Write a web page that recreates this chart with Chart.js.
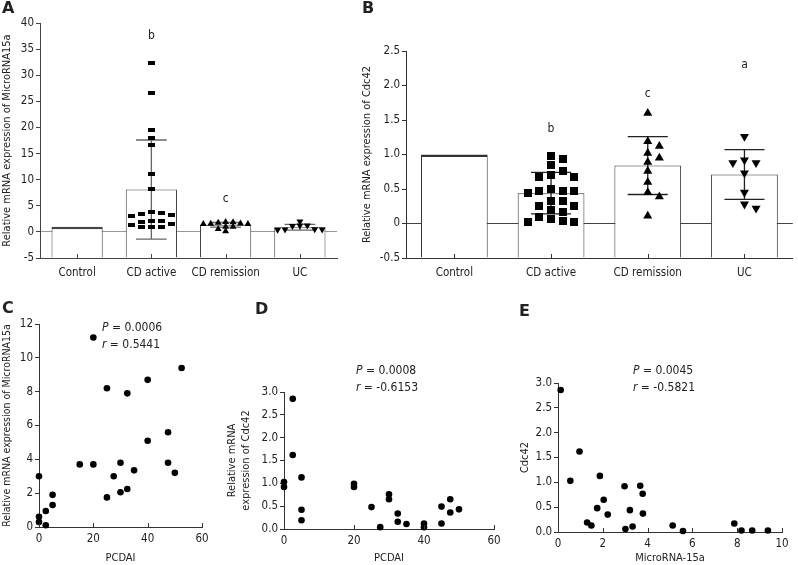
<!DOCTYPE html>
<html>
<head>
<meta charset="utf-8">
<script src="https://cdn.jsdelivr.net/npm/chart.js@4.4.1/dist/chart.umd.min.js"></script>
<style>
body { margin: 0; background: #fff; }
#fig { position: relative; width: 798px; height: 565px; overflow: hidden;
  font-family: 'DejaVu Sans Condensed', 'DejaVu Sans', sans-serif; color: #222; }
#fig canvas { position: absolute; }
.lab { position: absolute; font: bold 16px 'DejaVu Sans', sans-serif; line-height: 17px; }
.stat { position: absolute; font-size: 12px; line-height: 17px; white-space: nowrap; }
</style>
</head>
<body>
<div id="fig">
  <canvas id="cA"></canvas>
  <canvas id="cB"></canvas>
  <canvas id="cC"></canvas>
  <canvas id="cD"></canvas>
  <canvas id="cE"></canvas>
</div>
<script>
// ---- data ----
const groups = ['Control', 'CD active', 'CD remission', 'UC'];

// A: MicroRNA15a by group
const mirMean = [1, 8.1, 1.35, 0.9];
const mirSD = [0, 9.5, 0.45, 0.55];
const mirActive = [32.4, 26.6, 19.6, 17.9, 16.6, 11.1, 8.2, 3.8, 3.7, 3.4, 3.3, 3.1, 2.1, 2.0, 1.9, 1.6, 1.4, 1.0, 0.95, 0.9];
const mirRemission = [1.9, 1.85, 1.75, 1.6, 1.55, 1.5, 1.5, 1.0, 1.0, 0.55, 0.1];
const mirUC = [2.0, 1.2, 1.2, 1.15, 0.5, 0.45, 0.45, 0.4];
const mirLetters = ['', 'b', 'c', ''];
const mirLetterAt = [null, 37.5, 6.3, null];

// B: Cdc42 by group
const cdcMean = [1.0, 0.44, 0.84, 0.71];
const cdcSD = [0, 0.30, 0.42, 0.36];
const cdcActive = [0.98, 0.93, 0.85, 0.76, 0.71, 0.67, 0.67, 0.50, 0.47, 0.47, 0.47, 0.44, 0.33, 0.33, 0.25, 0.25, 0.20, 0.16, 0.10, 0.06, 0.03, 0.02, 0.02];
const cdcRemission = [1.60, 1.19, 1.12, 1.02, 0.95, 0.89, 0.76, 0.60, 0.45, 0.39, 0.11];
const cdcUC = [1.26, 0.92, 0.88, 0.88, 0.73, 0.45, 0.28, 0.22];
const cdcLetters = ['', 'b', 'c', 'a'];
const cdcLetterAt = [null, 1.37, 1.88, 2.3];

// C: PCDAI vs MicroRNA15a
const pcdaiC = [0, 0, 0, 2.5, 2.5, 5, 5, 15, 20, 20, 25, 25, 27.5, 30, 30, 32.5, 32.5, 35, 40, 40, 47.5, 47.5, 50, 52.5];
const mirC = [3.0, 0.6, 0.3, 0.1, 0.95, 1.3, 1.9, 3.7, 3.7, 11.2, 8.2, 1.75, 3.0, 3.8, 2.05, 7.9, 2.25, 3.35, 8.7, 5.1, 5.6, 3.8, 3.2, 9.4];

// D: PCDAI vs Cdc42
const pcdaiD = [0, 0, 2.5, 2.5, 5, 5, 5, 20, 20, 25, 27.5, 30, 30, 32.5, 32.5, 35, 40, 40, 45, 45, 47.5, 47.5, 50];
const cdcD = [1.03, 0.92, 2.85, 1.62, 1.13, 0.42, 0.19, 0.99, 0.92, 0.48, 0.04, 0.76, 0.65, 0.34, 0.16, 0.11, 0.12, 0.04, 0.49, 0.12, 0.65, 0.36, 0.43];

// E: MicroRNA-15a vs Cdc42
const mirE = [0.12, 0.55, 0.96, 1.3, 1.49, 1.75, 1.87, 2.04, 2.22, 2.97, 3.01, 3.21, 3.33, 3.67, 3.78, 3.79, 5.12, 5.58, 7.87, 8.19, 8.67, 9.37];
const cdcE = [2.86, 1.03, 1.62, 0.19, 0.13, 0.48, 1.13, 0.65, 0.35, 0.92, 0.06, 0.44, 0.11, 0.93, 0.77, 0.37, 0.13, 0.02, 0.17, 0.03, 0.03, 0.03];

const statP = ['0.0006', '0.0008', '0.0045'];
const statR = ['0.5441', '-0.6153', '-0.5821'];

// ---- layout: canvas box and wanted plot box, page pixels ----
const boxes = {
  A: { c: { l: 0, t: 0, w: 345, h: 290 }, p: { x0: 40, x1: 337, y0: 23, y1: 258 } },
  B: { c: { l: 352, t: 0, w: 446, h: 290 }, p: { x0: 406, x1: 797, y0: 51, y1: 258 } },
  C: { c: { l: 0, t: 300, w: 216, h: 265 }, p: { x0: 39, x1: 202, y0: 324, y1: 527 } },
  D: { c: { l: 220, t: 300, w: 288, h: 265 }, p: { x0: 284, x1: 494, y0: 392, y1: 529 } },
  E: { c: { l: 510, t: 300, w: 288, h: 265 }, p: { x0: 558, x1: 782, y0: 383, y1: 532 } }
};

const FONT = "'DejaVu Sans Condensed', 'DejaVu Sans', sans-serif";
Chart.defaults.font.family = FONT;
Chart.defaults.font.size = 11.5;
Chart.defaults.color = '#222';
Chart.defaults.animation = false;
Chart.defaults.responsive = false;
Chart.defaults.plugins.legend.display = false;
Chart.defaults.plugins.tooltip.enabled = false;

function place(key) {
  const b = boxes[key];
  const el = document.getElementById('c' + key);
  el.width = b.c.w; el.height = b.c.h;
  el.style.left = b.c.l + 'px'; el.style.top = b.c.t + 'px';
  return {
    el: el,
    padding: { top: b.p.y0 - b.c.t, right: b.c.l + b.c.w - b.p.x1, left: 0, bottom: 0 },
    yw: b.p.x0 - b.c.l,
    xh: b.c.t + b.c.h - b.p.y1
  };
}

function rectMark(w, h) {
  const c = document.createElement('canvas');
  c.width = w; c.height = h;
  const g = c.getContext('2d');
  g.fillStyle = '#000';
  g.fillRect(0, 0, w, h);
  return c;
}

// simple beeswarm: push points sideways when they would overlap
function swarm(vals, grp, step, wx, gy) {
  const out = [];
  vals.forEach(v => {
    for (let k = 0; k < 30; k++) {
      const off = (k % 2 ? 1 : -1) * Math.ceil(k / 2) * step;
      const hit = out.some(p => Math.abs(p.y - v) < gy && Math.abs(p.x - grp - off) < wx);
      if (!hit) { out.push({ x: grp + off, y: v }); break; }
    }
  });
  return out;
}

// error bars, letters and inward x ticks
const extras = {
  id: 'extras',
  afterDatasetDraw(chart, args, o) {
    if (args.index !== 0 || !o.mean) return;
    const ctx = chart.ctx, y = chart.scales.y;
    const meta = chart.getDatasetMeta(0);
    ctx.save();
    ctx.strokeStyle = o.color;
    ctx.lineWidth = 1.3;
    o.mean.forEach((m, i) => {
      if (!o.sd[i]) return;
      const bar = meta.data[i];
      const half = bar.width * 0.3;
      const top = y.getPixelForValue(m + o.sd[i]);
      const bot = y.getPixelForValue(m - o.sd[i]);
      ctx.beginPath();
      ctx.moveTo(bar.x, top); ctx.lineTo(bar.x, bot);
      ctx.moveTo(bar.x - half, top); ctx.lineTo(bar.x + half, top);
      ctx.moveTo(bar.x - half, bot); ctx.lineTo(bar.x + half, bot);
      ctx.stroke();
    });
    ctx.fillStyle = '#222';
    ctx.font = '12px ' + FONT;
    ctx.textAlign = 'center';
    ctx.textBaseline = 'middle';
    o.letters.forEach((t, i) => {
      if (t) ctx.fillText(t, meta.data[i].x, y.getPixelForValue(o.letterAt[i]));
    });
    ctx.restore();
  },
  afterDraw(chart, args, o) {
    const s = chart.scales.x, ctx = chart.ctx;
    ctx.save();
    ctx.strokeStyle = o.tickColor || '#333';
    ctx.lineWidth = 1;
    s.ticks.forEach(t => {
      const px = Math.round(s.getPixelForValue(t.value)) + 0.5;
      ctx.beginPath();
      ctx.moveTo(px, s.top);
      ctx.lineTo(px, s.top - 4);
      ctx.stroke();
    });
    ctx.restore();
  }
};
Chart.register(extras);

function barPanel(key, means, sds, sets, yMin, yMax, step, yTitle, titlePad, letters, letterAt, axisColor, zeroColor, errColor) {
  const f = place(key);
  const datasets = [{
    type: 'bar',
    data: means,
    base: yMin,
    order: 2,
    grouped: false,
    backgroundColor: '#fff',
    borderColor: axisColor,
    borderWidth: c => sds[c.dataIndex] === 0 ? { top: 2.5, left: 1, right: 1, bottom: 0 } : 1,
    barPercentage: 0.69,
    categoryPercentage: 1
  }];
  sets.forEach(s => datasets.push({
    type: 'scatter',
    xAxisID: 'xs',
    data: s.pts,
    order: 1,
    clip: false,
    pointStyle: s.style,
    rotation: s.rot || 0,
    pointRadius: s.r,
    backgroundColor: '#000',
    borderColor: '#000',
    borderWidth: 0
  }));
  return new Chart(f.el, {
    type: 'bar',
    data: { labels: groups, datasets: datasets },
    options: {
      layout: { padding: f.padding },
      scales: {
        x: {
          type: 'category',
          offset: true,
          grid: { drawOnChartArea: false, drawTicks: false },
          border: { color: axisColor },
          ticks: { padding: 8, maxRotation: 0, minRotation: 0, autoSkip: false },
          afterFit: s => { s.height = f.xh; }
        },
        xs: { type: 'linear', display: false, offset: false, grace: 0, min: -0.5, max: 3.5 },
        y: {
          min: yMin, max: yMax,
          ticks: { stepSize: step, padding: 2 },
          grid: {
            color: c => c.tick && c.tick.value === 0 ? zeroColor : 'rgba(0,0,0,0)',
            tickColor: axisColor, tickLength: 4
          },
          border: { color: axisColor },
          title: { display: true, text: yTitle, font: { size: 11 }, padding: { top: titlePad, bottom: 0 } },
          afterFit: s => { s.width = f.yw; }
        }
      },
      plugins: {
        extras: { mean: means, sd: sds, letters: letters, letterAt: letterAt, color: errColor, tickColor: axisColor }
      }
    }
  });
}

function scatterPanel(key, xs, ys, xMax, xStep, yMax, yStep, yFmt, xTitle, yTitle, titleSize, titlePad) {
  const f = place(key);
  return new Chart(f.el, {
    type: 'scatter',
    data: {
      datasets: [{
        data: xs.map((x, i) => ({ x: x, y: ys[i] })),
        clip: false,
        pointRadius: 3.3,
        backgroundColor: '#000',
        borderWidth: 0
      }]
    },
    options: {
      layout: { padding: f.padding },
      scales: {
        x: {
          min: 0, max: xMax,
          ticks: { stepSize: xStep, padding: 5 },
          grid: { drawOnChartArea: false, drawTicks: false },
          border: { color: '#333' },
          title: { display: true, text: xTitle, font: { size: 11 }, padding: { top: 0, bottom: 0 } },
          afterFit: s => { s.height = f.xh; }
        },
        y: {
          min: 0, max: yMax,
          ticks: { stepSize: yStep, padding: 2, callback: v => yFmt(v) },
          grid: { drawOnChartArea: false, tickColor: '#333', tickLength: 4 },
          border: { color: '#333' },
          title: { display: true, text: yTitle, font: { size: titleSize }, padding: { top: titlePad, bottom: 0 } },
          afterFit: s => { s.width = f.yw; }
        }
      },
      plugins: { extras: { tickColor: '#333' } }
    }
  });
}

// panel A
barPanel('A', mirMean, mirSD, [
  { pts: swarm(mirActive, 1, 0.068, 0.1, 0.86), style: rectMark(7, 4), r: 4 },
  { pts: swarm(mirRemission, 2, 0.05, 0.085, 0.8), style: 'triangle', r: 4 },
  { pts: swarm(mirUC, 3, 0.05, 0.085, 0.8), style: 'triangle', rot: 180, r: 4 }
], -5, 40, 5, 'Relative mRNA expression of MicroRNA15a', 1, mirLetters, mirLetterAt, '#444', '#999', '#666');

// panel B
barPanel('B', cdcMean, cdcSD, [
  { pts: swarm(cdcActive, 1, 0.06, 0.092, 0.13), style: rectMark(8, 8), r: 5 },
  { pts: swarm(cdcRemission, 2, 0.06, 0.095, 0.12), style: 'triangle', r: 5.2 },
  { pts: swarm(cdcUC, 3, 0.06, 0.095, 0.12), style: 'triangle', rot: 180, r: 5.2 }
], -0.5, 2.5, 0.5, 'Relative mRNA expression of Cdc42', 8.4, cdcLetters, cdcLetterAt, '#333', '#444', '#222');

// panels C-E
scatterPanel('C', pcdaiC, mirC, 60, 20, 12, 2, v => String(v), 'PCDAI', 'Relative mRNA expression of MicroRNA15a', 10.5, 1);
scatterPanel('D', pcdaiD, cdcD, 60, 20, 3, 0.5, v => v.toFixed(1), 'PCDAI', ['Relative mRNA', 'expression of Cdc42'], 11, 6);
scatterPanel('E', mirE, cdcE, 10, 2, 3, 0.5, v => v.toFixed(1), 'MicroRNA-15a', 'Cdc42', 11, 8.4);

// panel letters and statistics
const fig = document.getElementById('fig');
[['A', 2, -1], ['B', 362, -1], ['C', 2, 299], ['D', 255, 300], ['E', 519, 302]].forEach(a => {
  const d = document.createElement('div');
  d.className = 'lab';
  d.textContent = a[0];
  d.style.left = a[1] + 'px'; d.style.top = a[2] + 'px';
  fig.appendChild(d);
});
[[102, 318.5], [356, 361.5], [633, 361.5]].forEach((pos, i) => {
  const d = document.createElement('div');
  d.className = 'stat';
  d.style.left = pos[0] + 'px'; d.style.top = pos[1] + 'px';
  d.innerHTML = '<i>P</i> = ' + statP[i] + '<br><i>r</i> = ' + statR[i];
  fig.appendChild(d);
});
</script>
</body>
</html>
